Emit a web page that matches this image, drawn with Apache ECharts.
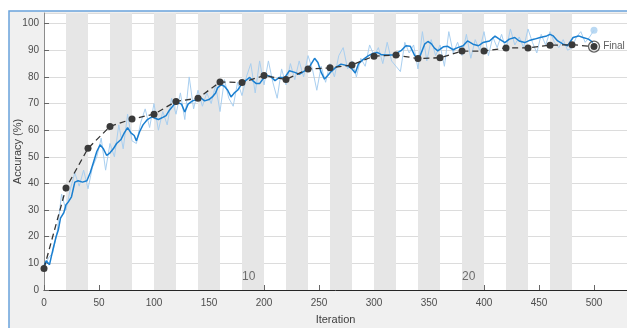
<!DOCTYPE html>
<html>
<head>
<meta charset="utf-8">
<script src="https://cdn.jsdelivr.net/npm/echarts@6/dist/echarts.min.js"></script>
<style>
html,body{margin:0;padding:0;background:#fff;}
#chart{width:627px;height:328px;}
</style>
</head>
<body>
<div id="chart"></div>
<script>
// ---- data ----
const smoothIter = [0,2,5,8,11,13,15,18,20,22,25,28,31,35,39,42,45,48,51,54,57,60,63,66,70,73,76,79,82,84,87,90,94,98,101,104,108,111,114,118,122,125,128,131,135,139,142,146,150,153,156,158,161,164,167,170,173,176,180,183,187,190,193,196,199,203,206,210,214,219,223,228,232,237,242,246,249,252,255,258,261,265,270,276,280,283,286,290,295,299,303,307,312,317,321,325,329,333,337,339,342,346,349,352,355,358,363,367,372,376,381,385,390,395,399,405,410,414,419,423,428,432,437,442,446,451,457,460,463,467,472,476,481,486,490,495,499];
const smoothAcc = [9,11,9.5,15,20,22.5,27,29,32,33,35,40.5,41,40.5,41,44,48,52,54.5,53,50.5,51.5,53,55,56.5,59,61,59,58,56,59.5,62,64,65,64.5,64,64.8,65.5,67.5,69.5,70.3,69.8,66.8,69.8,71,71.5,72.3,71,71.5,72.5,74,76,77,76.5,75,72.5,74,75,77.5,78.5,79.8,78.5,77.5,77.5,79.2,80.5,80.2,78.6,79.8,79.8,82.3,81.7,81,82.3,84.2,87,85.4,81.7,79.2,80.5,82,83.5,84.8,84.2,83,81.5,85,86.5,88,88.8,89.2,88.3,88.2,88.2,89,90,91.7,91.5,88,87.3,88,92.3,93.3,92.5,90.8,89.8,91.3,91.5,90.2,91,91.7,93.5,92.3,91.7,92.9,93.5,95.3,94.2,92.9,94.2,94.8,93.5,92.9,93.8,94.2,94.8,95.4,96,95.4,93.5,92.3,91.7,94.8,95.4,94.8,94.2,93];
const rawIter = [0,4,8,12,16,20,24,28,32,36,40,44,48,52,56,60,64,68,72,76,80,84,88,92,96,100,104,108,112,116,120,124,128,132,136,140,144,148,152,156,160,164,168,172,176,180,184,188,192,196,200,204,208,212,216,220,224,228,232,236,240,244,248,252,256,260,264,268,272,276,280,284,288,292,296,300,304,308,312,316,320,324,328,332,336,340,344,348,352,356,360,364,368,372,376,380,384,388,392,396,400,404,408,412,416,420,424,428,432,436,440,444,448,452,456,460,464,468,472,476,480,484,488,492,496,500];
const rawAcc = [8,12,14,22,36,30,38,44,39,45,38,46,50,57,45,55,50,62,53,66,56,55,63,68,61,70,60,67,62,72,66,74,64,80,68,75,69,74,70,77,67,79,72,69,78,73,80,85,74,86,77,86,78,72,83,77,85,79,86,80,88,83,75,84,78,85,80,88,91,83,86,80,87,84,92,88,91,85,93,86,84,82,93,89,92,83,97,86,94,88,92,84,97,89,93,88,96,87,94,90,97,88,95,91,96,90,98,92,95,91,98,93,89,96,92,97,93,91,94,90,91,95,97,93,95,97.5];
const valIter = [0,20,40,60,80,100,120,140,160,180,200,220,240,260,280,300,320,340,360,380,400,420,440,460,480,500];
const valAcc = [8.1,38.3,53.2,61.4,64.2,66,70.8,72,78.1,77.9,80.5,79,83,83.4,84.5,87.8,88.2,86.9,87.2,89.7,89.7,90.9,90.9,91.9,92.1,91.4];
const finalPoint = [500, 91.4];
const finalRaw = [500, 97.5];
const shadedEpochStarts = [20,60,100,140,180,220,260,300,340,380,420,460];
const epochLength = 20;
const epochLabels = [[180, 4.9, '10'], [380, 4.9, '20']];
const xTicks = [0,50,100,150,200,250,300,350,400,450,500];

const zip = (a, b) => a.map((v, i) => [v, b[i]]);

const chart = echarts.init(document.getElementById('chart'), null, {renderer: 'canvas'});
const FONT = '"Liberation Sans Narrow", "Liberation Sans", Arial, sans-serif';

chart.setOption({
  animation: false,
  backgroundColor: '#ffffff',
  graphic: [{
    type: 'rect', z: -100, silent: true,
    shape: {x: 9, y: 11, width: 640, height: 340},
    style: {fill: '#f0f0f0', stroke: '#6aa3db', lineWidth: 1.5}
  }],
  grid: {left: 44, right: 0, top: 13, bottom: 38, show: true, backgroundColor: '#ffffff', borderWidth: 0,
    containLabel: false, outerBoundsMode: 'none'},
  xAxis: {
    type: 'value', min: 0, max: 530, interval: 50,
    name: 'Iteration', nameLocation: 'middle', nameGap: 24, nameMoveOverlap: false,
    nameTextStyle: {fontFamily: FONT, fontSize: 11, color: '#404040'},
    axisLine: {show: true, onZero: false, lineStyle: {color: '#262626', width: 1}},
    axisTick: {show: true, inside: true, length: 5, lineStyle: {color: '#666'}},
    axisLabel: {fontFamily: FONT, fontSize: 10, color: '#4d4d4d', margin: 8, showMaxLabel: false,
      formatter: v => (xTicks.indexOf(v) >= 0 ? String(v) : '')},
    splitLine: {show: false}
  },
  yAxis: {
    type: 'value', min: 0, max: 104, interval: 10,
    name: 'Accuracy (%)', nameLocation: 'middle', nameGap: 21, nameMoveOverlap: false,
    nameTextStyle: {fontFamily: FONT, fontSize: 11, color: '#404040'},
    axisLine: {show: true, lineStyle: {color: '#8c8c8c', width: 1}},
    axisTick: {show: true, inside: true, length: 5, lineStyle: {color: '#666'}},
    axisLabel: {fontFamily: FONT, fontSize: 10, color: '#4d4d4d', margin: 5, showMaxLabel: false},
    splitLine: {show: true, lineStyle: {color: '#dcdcdc', width: 1}}
  },
  series: [
    {
      type: 'line', name: 'bands', data: [], silent: true,
      markArea: {silent: true, itemStyle: {color: '#e6e6e6'},
        data: shadedEpochStarts.map(s => [{xAxis: s}, {xAxis: s + epochLength}])}
    },
    {
      type: 'scatter', name: 'epochs', data: epochLabels, symbolSize: 0, silent: true,
      label: {show: true, position: 'right', distance: 0, formatter: p => p.data[2],
        fontFamily: FONT, fontSize: 12, color: '#4d4d4d'}
    },
    {
      type: 'line', name: 'raw', data: zip(rawIter, rawAcc), showSymbol: false, z: 3,
      lineStyle: {color: '#a9cff0', width: 1}
    },
    {
      type: 'line', name: 'smooth', data: zip(smoothIter, smoothAcc), showSymbol: false, z: 4,
      lineStyle: {color: '#1a7fd0', width: 1.5}
    },
    {
      type: 'scatter', name: 'finalRaw', data: [finalRaw], symbol: 'circle', symbolSize: 7, z: 4,
      itemStyle: {color: '#a9cff0'}
    },
    {
      type: 'line', name: 'validation', data: zip(valIter, valAcc), z: 5,
      symbol: 'circle', symbolSize: 7, showSymbol: true,
      lineStyle: {color: '#333333', width: 1.3, type: [6, 4]},
      itemStyle: {color: '#3a3a3a', borderWidth: 0}
    },
    {
      type: 'scatter', name: 'final', data: [finalPoint], symbol: 'circle', symbolSize: 11, z: 6,
      itemStyle: {color: 'rgba(0,0,0,0)', borderColor: '#3a3a3a', borderWidth: 1.3},
      label: {show: true, position: 'right', distance: 3, formatter: 'Final',
        fontFamily: FONT, fontSize: 10, color: '#333'}
    }
  ]
});
</script>
</body>
</html>
